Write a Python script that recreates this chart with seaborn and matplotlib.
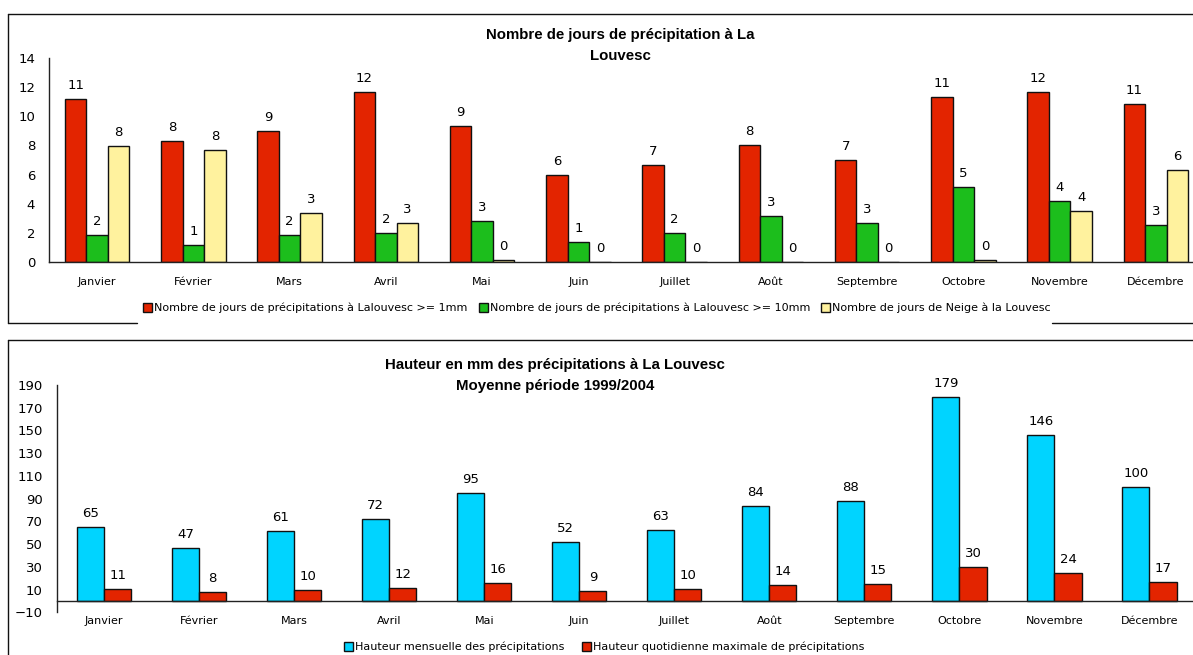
import numpy as np
import pandas as pd
import matplotlib
matplotlib.use('Agg')
import matplotlib.pyplot as plt
from matplotlib.patches import Patch
from matplotlib.lines import Line2D
import seaborn as sns

# donnees
mois = ['Janvier', 'Février', 'Mars', 'Avril', 'Mai', 'Juin', 'Juillet',
        'Août', 'Septembre', 'Octobre', 'Novembre', 'Décembre']

jours_1mm = [11.19, 8.33, 8.97, 11.65, 9.33, 6.0, 6.68, 8.0, 7.0, 11.33, 11.65, 10.82]
jours_10mm = [1.85, 1.17, 1.85, 2.0, 2.83, 1.35, 2.0, 3.18, 2.68, 5.17, 4.16, 2.52]
jours_neige = [7.98, 7.67, 3.34, 2.67, 0.17, 0, 0, 0, 0, 0.17, 3.52, 6.31]

hauteur_mensuelle = [65.4, 46.9, 61.3, 71.8, 94.6, 51.9, 62.7, 83.6, 88.2, 179.3, 146.3, 100.3]
hauteur_max = [10.6, 7.6, 9.9, 11.7, 15.6, 8.6, 10.4, 14.1, 14.7, 29.9, 24.3, 16.6]

series_haut = ['Nombre de jours de précipitations à Lalouvesc >= 1mm',
               'Nombre de jours de précipitations à Lalouvesc >= 10mm',
               'Nombre de jours de Neige à la Louvesc']
series_bas = ['Hauteur mensuelle des précipitations',
              'Hauteur quotidienne maximale de précipitations']

couleurs_haut = ['#E32400', '#1CBE1C', '#FFF29E']
couleurs_bas = ['#00D4FF', '#E32400']

df_haut = pd.DataFrame({'mois': mois, series_haut[0]: jours_1mm,
                        series_haut[1]: jours_10mm, series_haut[2]: jours_neige})
df_haut = df_haut.melt(id_vars='mois', var_name='serie', value_name='valeur')
df_bas = pd.DataFrame({'mois': mois, series_bas[0]: hauteur_mensuelle,
                       series_bas[1]: hauteur_max})
df_bas = df_bas.melt(id_vars='mois', var_name='serie', value_name='valeur')

sns.set_style('white')
plt.rcParams['font.family'] = ['DejaVu Sans']
plt.rcParams['text.color'] = 'black'
plt.rcParams['xtick.color'] = 'black'
plt.rcParams['ytick.color'] = 'black'

W, H = 1193, 655
fig = plt.figure(figsize=(W / 100, H / 100), dpi=100)


def px(x0, y0, x1, y1):
    # rectangle en pixels -> coordonnees figure
    return [x0 / W, 1 - y1 / H, (x1 - x0) / W, (y1 - y0) / H]


def style_axe(ax):
    for s in ['top', 'right']:
        ax.spines[s].set_visible(False)
    for s in ['left', 'bottom']:
        ax.spines[s].set_color('#222222')
        ax.spines[s].set_linewidth(1)
    ax.set_xlim(-0.5, 11.5)
    ax.set_xticks(range(12))
    ax.set_xticklabels(mois)
    ax.set_xticks(np.arange(-0.5, 12, 1), minor=True)
    ax.tick_params(axis='x', which='major', length=0, pad=11, labelsize=8,
                   labelcolor='black')
    ax.tick_params(axis='x', which='minor', length=4, width=1, color='#222222')
    ax.tick_params(axis='y', length=4, width=1, color='#222222', labelsize=9.5, pad=6,
                   labelcolor='black')
    ax.set_xlabel('')
    ax.set_ylabel('')


titre_font = dict(fontsize=10.8, fontweight='bold', linespacing=1.55, color='black',
                  family=['Liberation Sans', 'DejaVu Sans'])

# graphique du haut
ax1 = fig.add_axes(px(49, 58, 1204, 262))
sns.barplot(data=df_haut, x='mois', y='valeur', hue='serie', hue_order=series_haut,
            palette=couleurs_haut, saturation=1, width=0.67, edgecolor='#111111',
            linewidth=1, legend=False, ax=ax1)
ax1.set_ylim(0, 14)
ax1.set_yticks(range(0, 15, 2))
style_axe(ax1)
for c in ax1.containers:
    ax1.bar_label(c, fmt='%.0f', padding=5, fontsize=9.5, color='black')

fig.text(620 / W, 1 - 45.5 / H, 'Nombre de jours de précipitation à La\nLouvesc',
         ha='center', va='center', **titre_font)

fig.legend(handles=[Patch(facecolor=c, edgecolor='#111111', label=l)
                    for c, l in zip(couleurs_haut, series_haut)],
           loc='center', bbox_to_anchor=(597 / W, 1 - 308 / H), ncol=3, frameon=False,
           fontsize=8, handlelength=0.8, handleheight=0.8, handletextpad=0.2,
           columnspacing=1.0)

# graphique du bas
ax2 = fig.add_axes(px(56.7, 385, 1197, 612.3))
sns.barplot(data=df_bas, x='mois', y='valeur', hue='serie', hue_order=series_bas,
            palette=couleurs_bas, saturation=1, width=0.57, edgecolor='#111111',
            linewidth=1, legend=False, ax=ax2)
ax2.set_ylim(-10, 190)
ax2.set_yticks(range(-10, 191, 20))
ax2.spines['bottom'].set_position(('data', 0))
style_axe(ax2)
for c in ax2.containers:
    ax2.bar_label(c, fmt='%.0f', padding=5, fontsize=9.5, color='black')

fig.text(555 / W, 1 - 375.5 / H, 'Hauteur en mm des précipitations à La Louvesc\nMoyenne période 1999/2004',
         ha='center', va='center', **titre_font)

fig.legend(handles=[Patch(facecolor=c, edgecolor='#111111', label=l)
                    for c, l in zip(couleurs_bas, series_bas)],
           loc='center', bbox_to_anchor=(604 / W, 1 - 647 / H), ncol=2, frameon=False,
           fontsize=8, handlelength=0.8, handleheight=0.8, handletextpad=0.2,
           columnspacing=1.6)

# cadres des deux graphiques
cadres = [((8, 8), (14, 323)), ((8, W), (14, 14)), ((8, 137), (323, 323)),
          ((1052, W), (323, 323)), ((8, 8), (340, H)), ((8, W), (340, 340))]
for xs, ys in cadres:
    fig.add_artist(Line2D([x / W for x in xs], [1 - y / H for y in ys],
                          color='#111111', linewidth=1))

fig.savefig('out.png', dpi=100)
